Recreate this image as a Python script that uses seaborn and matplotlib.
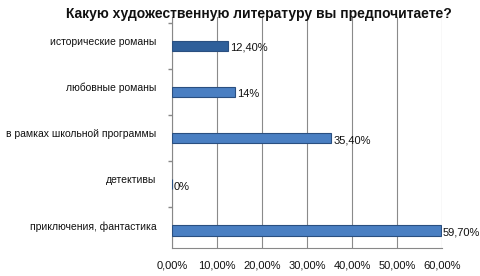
import matplotlib
matplotlib.use("Agg")
import matplotlib.pyplot as plt
import matplotlib.transforms as mtransforms
import seaborn as sns
import pandas as pd
from matplotlib.ticker import FuncFormatter, FixedLocator

categories = ["исторические романы", "любовные романы", "в рамках школьной программы",
              "детективы", "приключения, фантастика"]
values = [12.4, 14.0, 35.4, 0.0, 59.7]
value_labels = ["12,40%", "14%", "35,40%", "0%", "59,70%"]
xticks = [0, 10, 20, 30, 40, 50, 60]

df = pd.DataFrame({"cat": categories, "val": values})

sns.set_theme(style="white")
plt.rcParams['font.family'] = ['Liberation Sans', 'DejaVu Sans']

fig = plt.figure(figsize=(4.8, 2.76), dpi=100)
ax = fig.add_axes([172 / 480, 28 / 276, 270 / 480, 231 / 276])

colors = ["#2f5f9a", "#4a7fc2", "#4a7fc2", "#4a7fc2", "#4a7fc2"]
sns.barplot(data=df, x="val", y="cat", hue="cat", palette=colors, legend=False,
            width=0.22, ax=ax, edgecolor="#2a4f80", linewidth=0.8, zorder=3,
            saturation=1)

ax.set_xlim(0, 60)
ax.set_ylim(4.38, -0.62)
ax.set_xticks(xticks)
ax.xaxis.set_major_formatter(FuncFormatter(lambda v, p: f"{v:.2f}%".replace(".", ",")))
ax.tick_params(axis="x", labelsize=8, length=3, color="#888888", pad=6, labelcolor="#111111")
ax.set_yticks(range(len(categories)))
ax.set_yticklabels(categories)
ax.yaxis.set_minor_locator(FixedLocator([-0.5, 0.5, 1.5, 2.5, 3.5]))
ax.tick_params(axis="y", which="major", labelsize=7.5, length=0, pad=11, labelcolor="#111111")
ax.tick_params(axis="y", which="minor", length=3, color="#888888", left=True)
shift = mtransforms.ScaledTranslation(0, 4 / 100, fig.dpi_scale_trans)
for lbl in ax.get_yticklabels():
    lbl.set_verticalalignment("center")
    lbl.set_transform(lbl.get_transform() + shift)
ax.set_xlabel("")
ax.set_ylabel("")
for x in xticks:
    ax.axvline(x, color="#8a8a8a", lw=0.8, zorder=0)
for s in ["top", "right"]:
    ax.spines[s].set_visible(False)
ax.spines["left"].set_color("#888888")
ax.spines["bottom"].set_color("#888888")
ax.spines["left"].set_linewidth(0.8)
ax.spines["bottom"].set_linewidth(0.8)

for i, (v, t) in enumerate(zip(values, value_labels)):
    ax.text(v + 0.4, i + 0.05, t, va="center", ha="left", fontsize=8, color="#111111", zorder=4)

fig.text(0.54, 0.975, "Какую художественную литературу вы предпочитаете?",
         ha="center", va="top", fontsize=10, fontweight="bold", color="#111111")

fig.savefig("out.png", dpi=100)
